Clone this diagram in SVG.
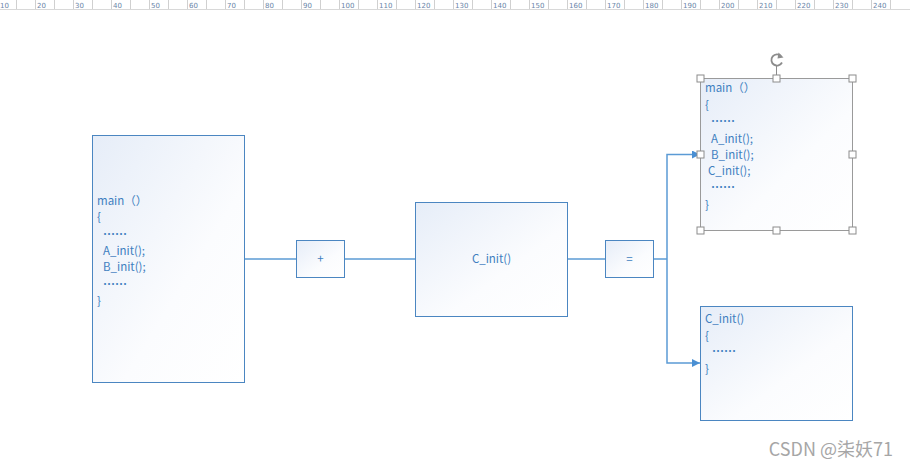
<svg xmlns="http://www.w3.org/2000/svg" width="910" height="467" viewBox="0 0 910 467">
<defs>
<linearGradient id="g" x1="0" y1="0" x2="1" y2="1">
<stop offset="0" stop-color="#e6edf8"/>
<stop offset="0.6" stop-color="#fbfcfe"/>
<stop offset="1" stop-color="#ffffff"/>
</linearGradient>
<marker id="arr" viewBox="0 0 10 10" refX="10" refY="5" markerWidth="8" markerHeight="8" markerUnits="userSpaceOnUse" orient="auto">
<path d="M0,0 L10,5 L0,10 Z" fill="#4a8fd3"/>
</marker>
</defs>
<style>
.box{fill:url(#g);stroke:#4b86c1;stroke-width:1}
.sel{fill:url(#g);stroke:#9a9a9a;stroke-width:1}
.t{font-family:"Noto Sans CJK SC","Noto Sans",sans-serif;font-size:11.5px;fill:#3f7fc0}
.d{font-size:12px;font-weight:bold}
.c{text-anchor:middle}
.h{fill:#fff;stroke:#8c8c8c;stroke-width:1}
.con{fill:none;stroke:#5b9bd5;stroke-width:1.5}
.rl{font-family:"DejaVu Sans",sans-serif;font-size:7px;fill:#6a85a8}
</style>
<rect width="910" height="467" fill="#ffffff"/>
<g id="ruler">
<path d="M0,9.5H910" stroke="#d8d8d8" stroke-width="1"/>
<path d="M-3.5,0V9M35.5,0V9M73.5,0V9M111.5,0V9M149.5,0V9M187.5,0V9M225.5,0V9M263.5,0V9M301.5,0V9M339.5,0V9M377.5,0V9M415.5,0V9M453.5,0V9M491.5,0V9M529.5,0V9M567.5,0V9M605.5,0V9M643.5,0V9M681.5,0V9M719.5,0V9M757.5,0V9M795.5,0V9M833.5,0V9M871.5,0V9M16.5,0V9M54.5,0V9M92.5,0V9M130.5,0V9M168.5,0V9M206.5,0V9M244.5,0V9M282.5,0V9M320.5,0V9M358.5,0V9M396.5,0V9M434.5,0V9M472.5,0V9M510.5,0V9M548.5,0V9M586.5,0V9M624.5,0V9M662.5,0V9M700.5,0V9M738.5,0V9M776.5,0V9M814.5,0V9M852.5,0V9M890.5,0V9" stroke="#d0d0d0" stroke-width="1"/>
<g class="rl">
<text x="0" y="7.5">10</text><text x="37" y="7.5">20</text><text x="75" y="7.5">30</text><text x="113" y="7.5">40</text><text x="151" y="7.5">50</text><text x="189" y="7.5">60</text><text x="227" y="7.5">70</text><text x="265" y="7.5">80</text><text x="303" y="7.5">90</text><text x="341" y="7.5">100</text><text x="379" y="7.5">110</text><text x="417" y="7.5">120</text><text x="455" y="7.5">130</text><text x="493" y="7.5">140</text><text x="531" y="7.5">150</text><text x="569" y="7.5">160</text><text x="607" y="7.5">170</text><text x="645" y="7.5">180</text><text x="683" y="7.5">190</text><text x="721" y="7.5">200</text><text x="759" y="7.5">210</text><text x="797" y="7.5">220</text><text x="835" y="7.5">230</text><text x="873" y="7.5">240</text>
</g>
</g>
<g id="connectors">
<path class="con" d="M244,259H296"/>
<path class="con" d="M344,259H415"/>
<path class="con" d="M567,259H605"/>
<path class="con" d="M653,259H667"/>
<path class="con" d="M667,259V154.5H700" marker-end="url(#arr)"/>
<path class="con" d="M667,259V363H700" marker-end="url(#arr)"/>
</g>
<g id="main-left">
<rect class="box" x="92.5" y="135.5" width="152" height="247"/>
<g class="t">
<text x="97" y="205">main（）</text>
<text x="97" y="221">{</text>
<text class="d" x="103" y="238.5">……</text>
<text x="103" y="255">A_init();</text>
<text x="103" y="271">B_init();</text>
<text class="d" x="103" y="288.5">……</text>
<text x="97" y="305">}</text>
</g>
</g>
<g id="plus">
<rect class="box" x="296.5" y="240.5" width="48" height="37"/>
<text class="t c" x="320.5" y="263">+</text>
</g>
<g id="c-init">
<rect class="box" x="415.5" y="202.5" width="152" height="114"/>
<text class="t c" x="491.5" y="263">C_init()</text>
</g>
<g id="equals">
<rect class="box" x="605.5" y="240.5" width="48" height="37"/>
<text class="t c" x="629.5" y="263">=</text>
</g>
<g id="main-right">
<rect class="sel" x="700.5" y="78.5" width="152" height="152"/>
<g class="t">
<text x="705" y="92">main（）</text>
<text x="705" y="109">{</text>
<text class="d" x="711" y="125.5">……</text>
<text x="711" y="143">A_init();</text>
<text x="711" y="159">B_init();</text>
<text x="708" y="175">C_init();</text>
<text class="d" x="711" y="191.5">……</text>
<text x="705" y="209">}</text>
</g>
<path d="M776.5,66V75" stroke="#8c8c8c" stroke-width="1"/>
<path d="M781,56A5.6,5.6 0 1 0 782,62.5" fill="none" stroke="#8c8c8c" stroke-width="1.8"/>
<path d="M778.5,52.5L783.5,57.5L777.5,58.5Z" fill="#8c8c8c"/>
<g>
<rect class="h" x="697" y="75" width="7" height="7"/>
<rect class="h" x="773" y="75" width="7" height="7"/>
<rect class="h" x="849" y="75" width="7" height="7"/>
<rect class="h" x="697" y="151" width="7" height="7"/>
<rect class="h" x="849" y="151" width="7" height="7"/>
<rect class="h" x="697" y="227" width="7" height="7"/>
<rect class="h" x="773" y="227" width="7" height="7"/>
<rect class="h" x="849" y="227" width="7" height="7"/>
</g>
</g>
<g id="c-init-right">
<rect class="box" x="700.5" y="306.5" width="152" height="114"/>
<g class="t">
<text x="705" y="323">C_init()</text>
<text x="705" y="340">{</text>
<text class="d" x="712" y="356">……</text>
<text x="705" y="373">}</text>
</g>
</g>
<text x="893" y="456" text-anchor="end" font-family="'Noto Sans CJK SC','Liberation Sans',sans-serif" font-size="18" fill="#a6a6a6">CSDN @柒妖71</text>
</svg>
